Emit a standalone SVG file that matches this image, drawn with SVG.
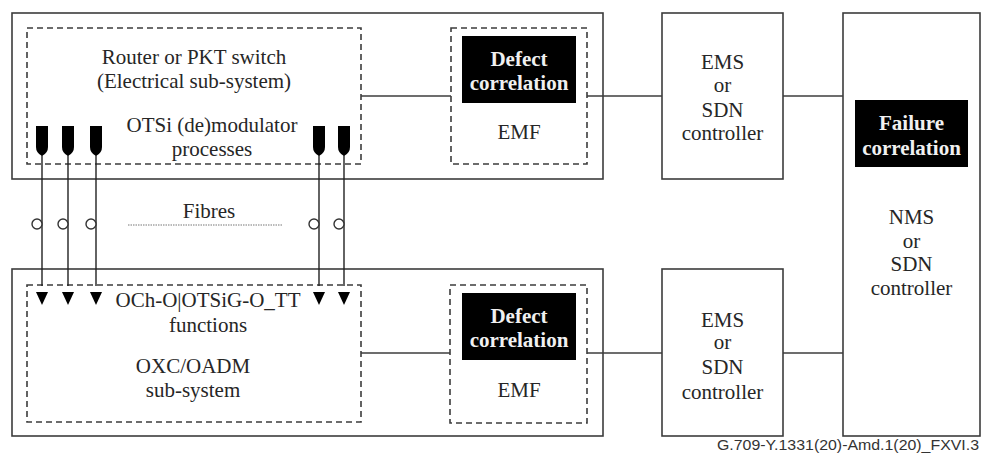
<svg xmlns="http://www.w3.org/2000/svg" width="982" height="457" viewBox="0 0 982 457">
<style>
.box{fill:#fff;stroke:#3c3c3c;stroke-width:1.6}
.dash{fill:none;stroke:#3c3c3c;stroke-width:1.6;stroke-dasharray:6 4}
.blk{fill:#000}
.t{font-family:"Liberation Serif","Times New Roman","DejaVu Serif",serif;font-size:21px;fill:#262626;text-anchor:middle}
.w{font-family:"Liberation Serif","Times New Roman","DejaVu Serif",serif;font-size:21px;font-weight:bold;fill:#f0f0f0;text-anchor:middle}
.ln{stroke:#3c3c3c;stroke-width:1.6;fill:none}
.fb{stroke:#222;stroke-width:1.4;fill:none}
.ring{fill:#fff;stroke:#333;stroke-width:1.4}
.foot{font-family:"Liberation Sans",Arial,sans-serif;font-size:15px;fill:#333;text-anchor:end}
</style>
<defs>
<path id="plug" d="M-6,0 h12 v21 q0,6 -6,9 q-6,-3 -6,-9 z" fill="#000"/>
<path id="tri" d="M-6,0 h12 l-6,13 z" fill="#000"/>
</defs>

<g id="router-node">
<rect class="box" x="12" y="13" width="591" height="166"/>
<rect class="dash" x="27" y="28" width="334" height="136"/>
<text class="t" x="194" y="64">Router or PKT switch</text>
<text class="t" x="194" y="88">(Electrical sub-system)</text>
<text class="t" x="212" y="132">OTSi (de)modulator</text>
<text class="t" x="212" y="156">processes</text>
<use href="#plug" x="42" y="126"/>
<use href="#plug" x="68" y="126"/>
<use href="#plug" x="96" y="126"/>
<use href="#plug" x="319" y="126"/>
<use href="#plug" x="344" y="126"/>
</g>

<g id="emf-top">
<rect class="dash" x="451" y="28" width="136" height="136"/>
<rect class="blk" x="462" y="36" width="114" height="67"/>
<text class="w" x="519" y="66">Defect</text>
<text class="w" x="519" y="90">correlation</text>
<text class="t" x="519" y="139">EMF</text>
</g>

<g id="ems-top">
<rect class="box" x="662" y="13" width="121" height="166"/>
<text class="t" x="722.5" y="69">EMS</text>
<text class="t" x="722.5" y="92">or</text>
<text class="t" x="722.5" y="117">SDN</text>
<text class="t" x="722.5" y="140">controller</text>
</g>

<g id="nms">
<rect class="box" x="843" y="13" width="137" height="423"/>
<rect class="blk" x="855" y="100" width="113" height="67"/>
<text class="w" x="911.5" y="130">Failure</text>
<text class="w" x="911.5" y="155">correlation</text>
<text class="t" x="911.5" y="224">NMS</text>
<text class="t" x="911.5" y="248">or</text>
<text class="t" x="911.5" y="271">SDN</text>
<text class="t" x="911.5" y="295">controller</text>
</g>

<g id="oxc-node">
<rect class="box" x="12" y="269" width="591" height="167"/>
<rect class="dash" x="27" y="285" width="334" height="137"/>
<text class="t" x="208" y="307">OCh-O|OTSiG-O_TT</text>
<text class="t" x="208" y="332">functions</text>
<text class="t" x="193" y="373">OXC/OADM</text>
<text class="t" x="193" y="397">sub-system</text>
<use href="#tri" x="42" y="292"/>
<use href="#tri" x="68" y="292"/>
<use href="#tri" x="96" y="292"/>
<use href="#tri" x="319" y="292"/>
<use href="#tri" x="344" y="292"/>
</g>

<g id="emf-bottom">
<rect class="dash" x="450" y="285" width="137" height="138"/>
<rect class="blk" x="462" y="293" width="114" height="67"/>
<text class="w" x="519" y="323">Defect</text>
<text class="w" x="519" y="347">correlation</text>
<text class="t" x="519" y="397">EMF</text>
</g>

<g id="ems-bottom">
<rect class="box" x="662" y="269" width="121" height="167"/>
<text class="t" x="722.5" y="327">EMS</text>
<text class="t" x="722.5" y="349">or</text>
<text class="t" x="722.5" y="374">SDN</text>
<text class="t" x="722.5" y="399">controller</text>
</g>

<g id="fibres-label">
<text class="t" x="209" y="218">Fibres</text>
<line x1="128" y1="225" x2="282" y2="225" stroke="#777" stroke-width="1" stroke-dasharray="1.5 1"/>
</g>

<g id="connectors">
<line class="ln" x1="361" y1="96" x2="451" y2="96"/>
<line class="ln" x1="587" y1="96" x2="662" y2="96"/>
<line class="ln" x1="783" y1="96" x2="843" y2="96"/>
<line class="ln" x1="361" y1="353" x2="450" y2="353"/>
<line class="ln" x1="587" y1="353" x2="662" y2="353"/>
<line class="ln" x1="783" y1="353" x2="843" y2="353"/>
<line class="fb" x1="42" y1="155" x2="42" y2="286"/>
<line class="fb" x1="68" y1="155" x2="68" y2="286"/>
<line class="fb" x1="96" y1="155" x2="96" y2="286"/>
<line class="fb" x1="319" y1="155" x2="319" y2="286"/>
<line class="fb" x1="344" y1="155" x2="344" y2="286"/>
<circle class="ring" cx="37" cy="224" r="5"/>
<circle class="ring" cx="63" cy="224" r="5"/>
<circle class="ring" cx="91" cy="224" r="5"/>
<circle class="ring" cx="314" cy="224" r="5"/>
<circle class="ring" cx="339" cy="224" r="5"/>
</g>

<text class="foot" x="979" y="450" textLength="262" lengthAdjust="spacingAndGlyphs">G.709-Y.1331(20)-Amd.1(20)_FXVI.3</text>
</svg>
